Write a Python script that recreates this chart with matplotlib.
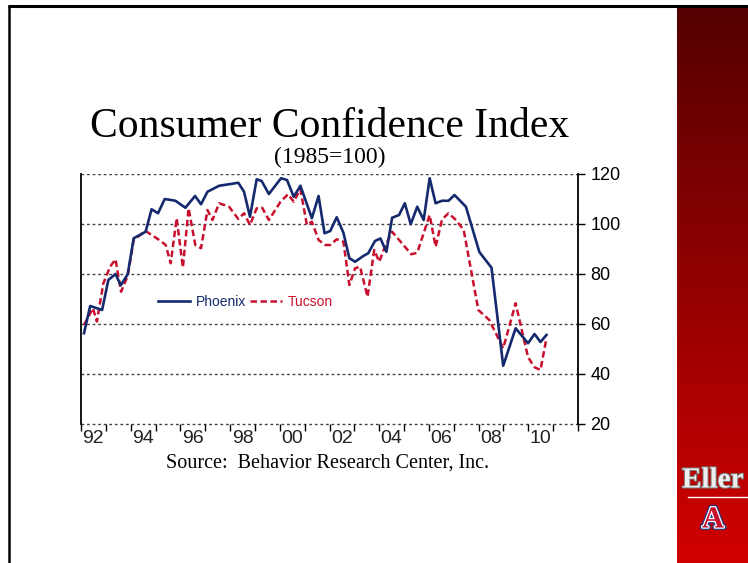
import numpy as np
import matplotlib
matplotlib.use("Agg")
import matplotlib.pyplot as plt
import matplotlib.transforms as mtransforms
import matplotlib.patheffects as pe

# ---- data (decimal year, index value) ----
phx_x = [1992.12, 1992.37, 1992.85, 1993.10, 1993.39, 1993.60, 1993.88, 1994.12, 1994.60,
         1994.84, 1995.10, 1995.37, 1995.80, 1996.20, 1996.59, 1996.83, 1997.09, 1997.56,
         1997.96, 1998.33, 1998.56, 1998.80, 1999.07, 1999.27, 1999.56, 2000.05, 2000.29,
         2000.56, 2000.83, 2001.29, 2001.56, 2001.80, 2002.03, 2002.29, 2002.56, 2002.80,
         2003.03, 2003.36, 2003.56, 2003.83, 2004.05, 2004.29, 2004.52, 2004.80, 2005.03,
         2005.27, 2005.53, 2005.79, 2006.03, 2006.27, 2006.53, 2006.79, 2007.03, 2007.49,
         2008.03, 2008.52, 2008.99, 2009.49, 2009.99, 2010.25, 2010.49, 2010.73]
phx_y = [56.3, 67.2, 65.6, 77.6, 80.0, 75.5, 79.9, 94.3, 96.9,
         105.9, 104.3, 110.0, 109.3, 106.5, 111.2, 107.9, 112.9, 115.3,
         115.9, 116.5, 112.9, 102.9, 117.9, 117.2, 112.0, 118.3, 117.6,
         110.9, 115.3, 102.3, 111.2, 96.3, 97.2, 102.7, 96.5, 86.3,
         84.9, 87.2, 88.3, 93.2, 94.2, 88.9, 102.5, 103.6, 108.3,
         99.9, 106.9, 101.6, 118.3, 108.3, 109.3, 109.3, 111.6, 106.9,
         88.8, 82.5, 43.3, 58.3, 52.3, 56.0, 52.8, 55.6]

tuc_x = [1992.12, 1992.48, 1992.64, 1992.90, 1993.17, 1993.39, 1993.61, 1993.88, 1994.12,
         1994.60, 1995.15, 1995.41, 1995.61, 1995.85, 1996.10, 1996.33, 1996.60, 1996.83,
         1997.09, 1997.29, 1997.56, 1997.96, 1998.33, 1998.56, 1998.80, 1999.07, 1999.29,
         1999.56, 2000.03, 2000.33, 2000.56, 2000.83, 2001.09, 2001.29, 2001.56, 2001.83,
         2002.03, 2002.29, 2002.56, 2002.80, 2003.03, 2003.23, 2003.53, 2003.80, 2004.00,
         2004.23, 2004.52, 2005.29, 2005.53, 2006.03, 2006.27, 2006.53, 2006.79, 2007.09,
         2007.40, 2007.99, 2008.43, 2008.99, 2009.49, 2009.99, 2010.25, 2010.49, 2010.73]
tuc_y = [59.6, 66.3, 61.0, 76.3, 82.9, 85.9, 72.9, 79.2, 93.6,
         97.2, 93.6, 91.6, 84.3, 102.3, 82.6, 106.3, 91.6, 90.3,
         105.6, 101.6, 108.3, 106.9, 102.0, 104.3, 99.6, 106.3, 106.5,
         101.6, 108.9, 111.9, 108.9, 113.9, 99.6, 100.9, 93.6, 91.6,
         91.6, 93.9, 92.9, 75.6, 82.3, 82.9, 70.9, 89.6, 84.9,
         90.9, 96.9, 87.9, 88.5, 103.6, 90.9, 101.9, 104.3, 101.6,
         97.6, 65.6, 61.6, 50.3, 68.3, 46.7, 42.7, 41.6, 54.3]

year_labels = ["92", "94", "96", "98", "00", "02", "04", "06", "08", "10"]
label_years = [1992, 1994, 1996, 1998, 2000, 2002, 2004, 2006, 2008, 2010]
y_ticks = [20, 40, 60, 80, 100, 120]

W, H = 748, 563
fig = plt.figure(figsize=(W / 100, H / 100), dpi=100)

# ---- slide decoration ----
bg = fig.add_axes([0, 0, 1, 1], zorder=-5)
bg.set_xlim(0, W)
bg.set_ylim(H, 0)
bg.axis("off")
grad = np.linspace(0, 1, 256)[:, None]
c_top = np.array([0.33, 0.0, 0.0])
c_bot = np.array([0.82, 0.0, 0.0])
img = c_top[None, None, :] * (1 - grad[:, :, None]) + c_bot[None, None, :] * grad[:, :, None]
bg.imshow(img, extent=[677, W, H, 5], aspect="auto", interpolation="bilinear", zorder=1)
bg.plot([8, W], [6, 6], color="black", lw=2.2, solid_capstyle="butt", zorder=3)
bg.plot([9, 9], [5, H], color="black", lw=1.8, solid_capstyle="butt", zorder=3)
bg.text(682, 480, "Eller", fontsize=21, fontweight="bold", family="Liberation Serif",
        color="#eeeeee", va="center", ha="left", zorder=4, clip_on=True,
        path_effects=[pe.withStroke(linewidth=1.5, foreground="#777777")])
bg.plot([688, W], [497, 497], color="white", lw=1, zorder=4)
bg.text(713, 520, "A", fontsize=22, fontweight="bold", family="Liberation Serif",
        color="#c8102e", va="center", ha="center", zorder=4,
        path_effects=[pe.withStroke(linewidth=3.5, foreground="#1a3a8a"),
                      pe.withStroke(linewidth=1.8, foreground="white")])

# ---- titles ----
fig.text(330 / W, 1 - 137 / H, "Consumer Confidence Index", fontsize=30,
         family="Liberation Serif", ha="center", va="baseline", color="black")
fig.text(330 / W, 1 - 163 / H, "(1985=100)", fontsize=17,
         family="Liberation Serif", ha="center", va="baseline", color="black")
fig.text(328 / W, 1 - 468 / H, "Source:  Behavior Research Center, Inc.", fontsize=14.5,
         family="Liberation Serif", ha="center", va="baseline", color="black")

# ---- main chart ----
x0, x1, yt, yb = 81, 578, 174, 424
ax = fig.add_axes([x0 / W, 1 - yb / H, (x1 - x0) / W, (yb - yt) / H])
ax.set_xlim(1992, 2012)
ax.set_ylim(20, 120)
ax.set_facecolor("none")

for v in [40, 60, 80, 100, 120]:
    ax.axhline(v, color="#444444", lw=1.0, dashes=(2, 2), zorder=1)
ax.axhline(20, color="#444444", lw=1.0, dashes=(2, 2), zorder=1, clip_on=False)

ax.plot(phx_x, phx_y, color="#152a6e", lw=1.9, label="Phoenix", zorder=3)
ax.plot(tuc_x, tuc_y, color="#c8102e", lw=1.8, dashes=(2.6, 1.4), label="Tucson", zorder=2)

for s in ["top", "bottom"]:
    ax.spines[s].set_visible(False)
for s in ["left", "right"]:
    ax.spines[s].set_color("black")
    ax.spines[s].set_linewidth(1.3)

ax.yaxis.tick_right()
ax.set_yticks(y_ticks)
ax.set_yticklabels([str(v) for v in y_ticks])
ax.tick_params(axis="y", direction="out", length=5, width=1, pad=4, labelsize=13,
               colors="black")
for lab in ax.get_yticklabels():
    lab.set_family("Liberation Sans")

ax.set_xticks(np.arange(1992, 2013, 1))
ax.set_xticklabels([])
ax.tick_params(axis="x", direction="out", length=5, width=1, colors="black")
off = mtransforms.ScaledTranslation(0, -6 / 100, fig.dpi_scale_trans)
for yr, lab in zip(label_years, year_labels):
    ax.text(yr + 0.5, 20, lab, transform=ax.transData + off, ha="center", va="top",
            fontsize=14, family="Liberation Sans", color="#222222", clip_on=False)

leg = ax.legend(loc="center left", bbox_to_anchor=(158 / W, 1 - 302 / H),
                bbox_transform=fig.transFigure, ncol=2, frameon=False,
                handlelength=2.3, handletextpad=0.4, columnspacing=0.3,
                borderpad=0, borderaxespad=0,
                prop={"family": "Liberation Sans", "size": 10}, labelcolor="linecolor")

fig.savefig("out.png", dpi=100)
